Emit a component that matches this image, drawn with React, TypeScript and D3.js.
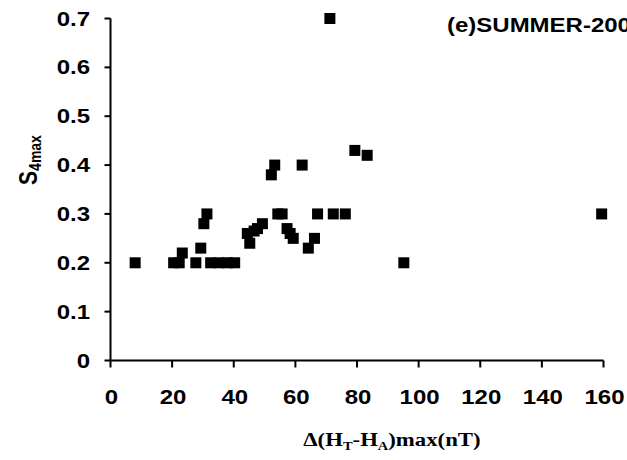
import React from "react";
import * as d3 from "d3";

const xValues = [8, 20.5, 22.3, 23.3, 27.7, 29.3, 30.3, 31.3, 32.5, 35.2, 38, 40.3, 44.4, 45.2, 46.6, 47.7, 49.3, 52.2, 53.3, 54.3, 55.7, 57.3, 58.3, 59.3, 62.2, 64.2, 66.2, 67.2, 71.2, 72.3, 76.2, 79.3, 83.3, 95.2, 159.4];
const yValues = [0.2, 0.2, 0.2, 0.22, 0.2, 0.23, 0.28, 0.3, 0.2, 0.2, 0.2, 0.2, 0.26, 0.24, 0.265, 0.27, 0.28, 0.38, 0.4, 0.3, 0.3, 0.27, 0.26, 0.25, 0.4, 0.23, 0.25, 0.3, 0.7, 0.3, 0.3, 0.43, 0.42, 0.2, 0.3];
const xTicks = [0, 20, 40, 60, 80, 100, 120, 140, 160];
const yTicks = [0, 0.1, 0.2, 0.3, 0.4, 0.5, 0.6, 0.7];
const title = "(e)SUMMER-2000";

export default function App() {
  const W = 627, H = 460;
  const x = d3.scaleLinear().domain([0, 160]).range([110.5, 603.5]);
  const y = d3.scaleLinear().domain([0, 0.7]).range([360.5, 18.5]);
  const s = 11;
  const k = 1.2;
  const font = "'Liberation Sans', Arial, sans-serif";
  const serif = "'Liberation Serif', 'Times New Roman', serif";
  return (
    <svg width={W} height={H} style={{ position: "absolute", left: 0, top: 0, background: "#fff" }}>
      <line x1={x(0)} x2={x(0)} y1={y(0.7)} y2={y(0)} stroke="#000" strokeWidth={2} />
      <line x1={x(0)} x2={x(160)} y1={y(0)} y2={y(0)} stroke="#000" strokeWidth={2} />
      {yTicks.map((t) => (
        <g key={"y" + t}>
          <line x1={x(0) - 6} x2={x(0)} y1={y(t)} y2={y(t)} stroke="#000" strokeWidth={2} />
          <text transform={`translate(90,${y(t)}) scale(${k},1)`} dy="0.35em" textAnchor="end" fontFamily={font} fontWeight="bold" fontSize={20}>
            {t === 0 ? "0" : d3.format(".1f")(t)}
          </text>
        </g>
      ))}
      {xTicks.map((t) => (
        <g key={"x" + t}>
          <line x1={x(t)} x2={x(t)} y1={y(0)} y2={y(0) + 7} stroke="#000" strokeWidth={2} />
          <text transform={`translate(${x(t) + 1},397) scale(${k},1)`} dy="0.35em" textAnchor="middle" fontFamily={font} fontWeight="bold" fontSize={20}>
            {t}
          </text>
        </g>
      ))}
      {xValues.map((v, i) => (
        <rect key={i} x={x(v) - s / 2} y={y(yValues[i]) - s / 2} width={s} height={s} fill="#000" />
      ))}
      <text transform={`translate(447,32) scale(${k},1)`} fontFamily={font} fontWeight="bold" fontSize={20}>{title}</text>
      <text transform={`translate(37,160) scale(${k},1) rotate(-90)`} textAnchor="middle" fontFamily={font} fontWeight="bold" fontSize={21}>
        S<tspan fontSize={14} dy={3}>4max</tspan>
      </text>
      <text transform={`translate(392,446) scale(${k},1)`} textAnchor="middle" fontFamily={serif} fontWeight="bold" fontSize={19}>
        Δ(H<tspan fontSize={12} dy={4}>T</tspan><tspan dy={-4}>-H</tspan><tspan fontSize={12} dy={4}>A</tspan><tspan dy={-4}>)max(nT)</tspan>
      </text>
    </svg>
  );
}
